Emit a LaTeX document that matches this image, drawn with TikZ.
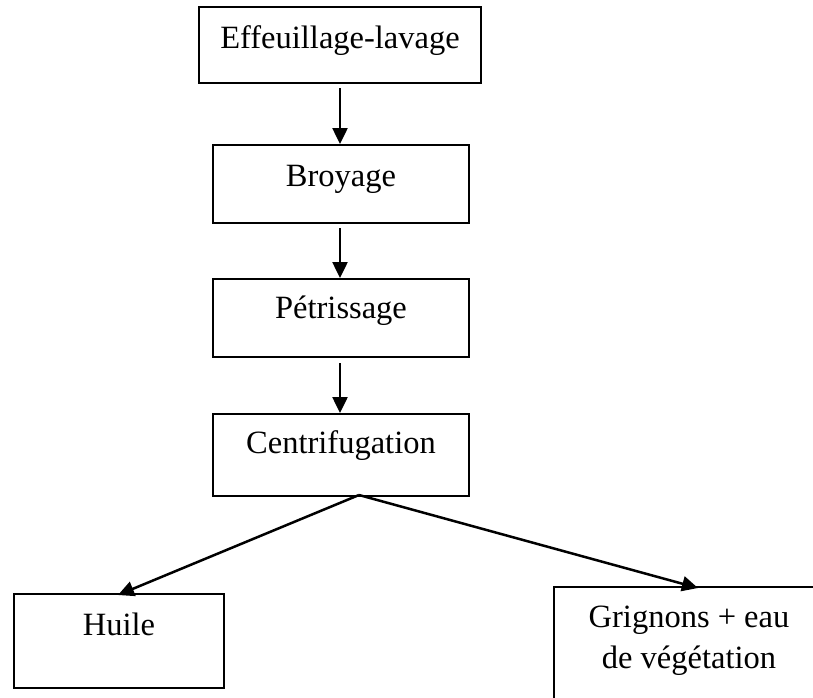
\documentclass[tikz,border=0pt]{standalone}
\usepackage{fontspec}
\setmainfont{Liberation Serif}
\usetikzlibrary{arrows.meta}
\begin{document}
\begin{tikzpicture}[x=1pt,y=-1pt,
  box/.style={draw,line width=2pt,inner sep=0pt,minimum width=256pt,minimum height=78pt},
  lbl/.style={anchor=base,inner sep=0pt,font=\fontsize{32.5}{38}\selectfont},
  arr/.style={line width=2.5pt,-{Triangle[length=16pt,width=15pt]}}]
\useasboundingbox (0,0) rectangle (813,697);
\clip (0,0) rectangle (813,697);
\node[box,minimum width=282pt,minimum height=76pt] (b1) at (340,45) {};
\node[box] (b2) at (341,184) {};
\node[box] (b3) at (341,318) {};
\node[box,minimum height=82pt] (b4) at (341,455) {};
\node[box,minimum width=210pt,minimum height=94pt] (b5) at (119,641) {};
\node[box,minimum width=290pt,minimum height=140pt] (b6) at (699,657) {};
\node[lbl] (t1) at (340,48) {Effeuillage-lavage};
\node[lbl] (t2) at (341,186) {Broyage};
\node[lbl] (t3) at (341,318) {Pétrissage};
\node[lbl] (t4) at (341,453) {Centrifugation};
\node[lbl] (t5) at (119,635) {Huile};
\node[lbl] (t6) at (689,627) {Grignons + eau};
\node[lbl] (t7) at (689,668) {de végétation};
\coordinate (split) at (359,495);
\coordinate (g) at (698,588);
\coordinate (h) at (118,595);
\draw[arr,shorten <=4pt] (b1.south -| t1) -- (b2.north -| t1);
\draw[arr,shorten <=4pt] (b2.south -| t1) -- (b3.north -| t1);
\draw[arr,shorten <=5pt] (b3.south -| t1) -- (b4.north -| t1);
\draw[arr] (split) -- (h);
\draw[arr] (split) -- (g);
\end{tikzpicture}
\end{document}
